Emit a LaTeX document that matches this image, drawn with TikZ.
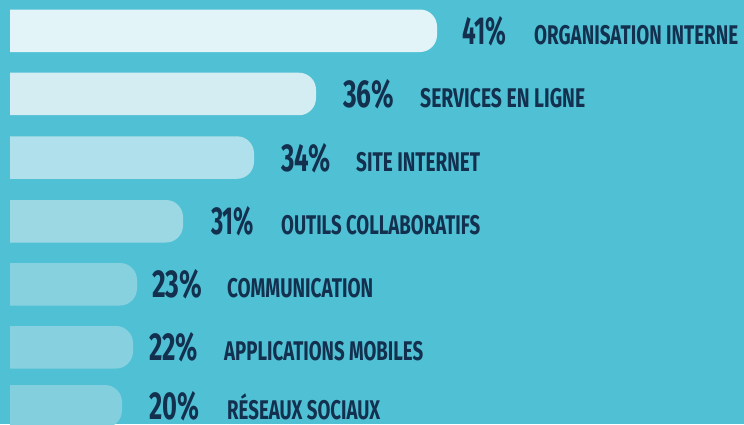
\documentclass[tikz,border=0pt]{standalone}
\usepackage{fontspec}
\usepackage{graphicx}
\setmainfont{Fira Sans}
\definecolor{bgc}{HTML}{50C1D4}
\definecolor{ink}{HTML}{13304F}
\definecolor{barA}{HTML}{E2F4F8}
\definecolor{barB}{HTML}{D3EDF2}
\definecolor{barC}{HTML}{B0E0EB}
\definecolor{barD}{HTML}{9BD8E4}
\definecolor{barE}{HTML}{87D1DF}
\definecolor{barF}{HTML}{86D0DF}
\definecolor{barG}{HTML}{84CFDE}
\newcommand\fitto[2]{\raisebox{0pt}[\height][0pt]{\resizebox{#1pt}{\height}{#2}}}
\tikzset{
  pctlabel/.style={anchor=base west, inner sep=0pt, text depth=0pt, text=ink, font=\fontsize{39}{39}\selectfont\bfseries},
  catlabel/.style={anchor=base west, inner sep=0pt, text depth=0pt, text=ink, font=\fontsize{27}{27}\selectfont\bfseries},
}
\newcommand\barrow[8]{%
  % #1 name, #2 top, #3 right, #4 colour, #5 pct x, #6 pct width, #7 pct text, #8 label spec
  \fill[#4] (10,#2) [rounded corners=17pt] -- (#3,#2) -- (#3,#2+42.5) [sharp corners] -- (10,#2+42.5) -- cycle;
  \node[pctlabel] (#1p) at (#5,#2+34.75) {\fitto{#6}{#7}};
  #8
}
\begin{document}
\begin{tikzpicture}[x=1pt,y=-1pt]
\fill[bgc] (0,0) rectangle (744,424);
\useasboundingbox (0,0) rectangle (744,424);
\barrow{r1}{9.5}{437}{barA}{462}{44}{41\%}{\node[catlabel] (r1l) at (534,44.25) {\fitto{204}{ORGANISATION INTERNE}};}
\barrow{r2}{72.7}{316}{barB}{343}{51}{36\%}{\node[catlabel] (r2l) at (420,107.45) {\fitto{165}{SERVICES EN LIGNE}};}
\barrow{r3}{136.3}{254}{barC}{281}{49}{34\%}{\node[catlabel] (r3l) at (356,171.05) {\fitto{124}{SITE INTERNET}};}
\barrow{r4}{200}{183}{barD}{211}{43}{31\%}{\node[catlabel] (r4l) at (281,234.75) {\fitto{199}{OUTILS COLLABORATIFS}};}
\barrow{r5}{263}{137}{barE}{152}{50}{23\%}{\node[catlabel] (r5l) at (227,297.75) {\fitto{146}{COMMUNICATION}};}
\barrow{r6}{326}{133}{barF}{149}{49}{22\%}{\node[catlabel] (r6l) at (224,360.75) {\fitto{199}{APPLICATIONS MOBILES}};}
\barrow{r7}{385}{122}{barG}{149}{50}{20\%}{\node[catlabel] (r7l) at (227,419.5) {\fitto{153}{RÉSEAUX SOCIAUX}};}
\end{tikzpicture}
\end{document}
